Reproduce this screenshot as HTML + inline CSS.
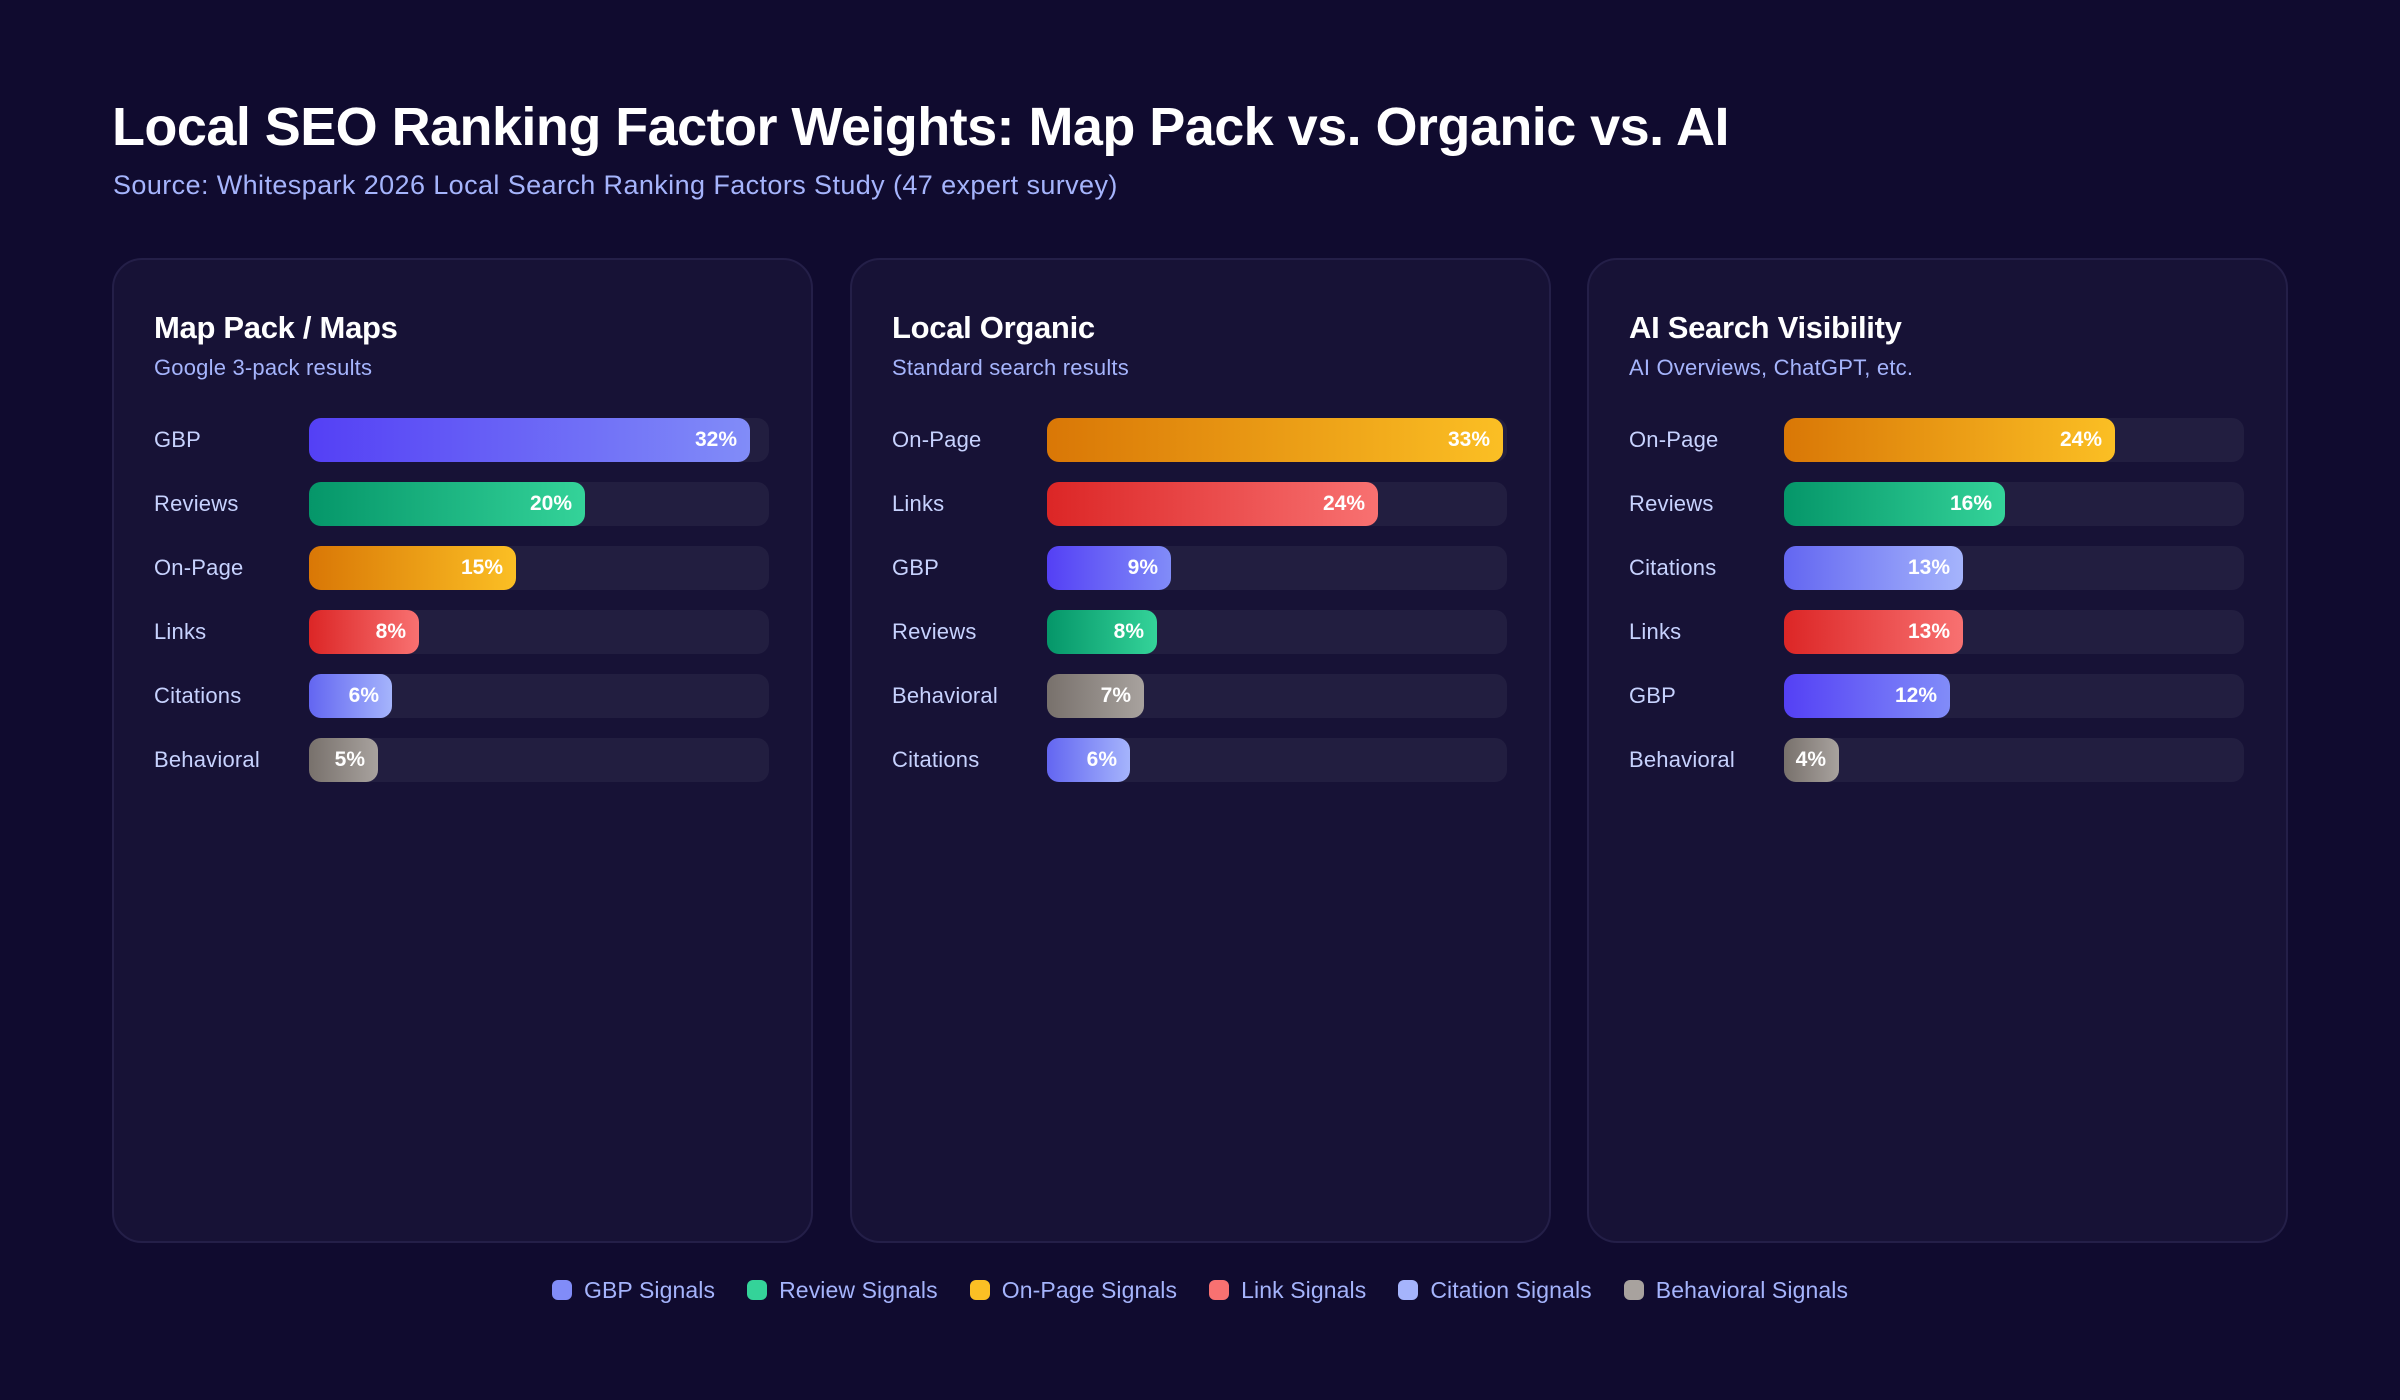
<!DOCTYPE html>
<html><head><meta charset="utf-8"><style>
*{margin:0;padding:0;box-sizing:border-box}
body{width:2400px;height:1400px;background:#100b2f;font-family:"Liberation Sans",sans-serif;position:relative;overflow:hidden}
h1{position:absolute;left:112px;top:96px;font-size:54px;font-weight:700;color:#fff;letter-spacing:-0.55px;white-space:nowrap}
.src{position:absolute;left:113px;top:170px;font-size:27px;color:#a5b4fc;white-space:nowrap;letter-spacing:0.4px}
.card{position:absolute;top:258px;width:701px;height:985px;background:#171236;border:2px solid #241f48;border-radius:30px}
.ct{position:absolute;left:40px;top:50px;font-size:31px;font-weight:700;color:#fff;white-space:nowrap;letter-spacing:-0.3px}
.cs{position:absolute;left:40px;top:95px;font-size:22px;color:#a5b4fc;white-space:nowrap;letter-spacing:0.2px}
.row{position:absolute;left:40px;height:44px;width:617px}
.lab{position:absolute;left:0;top:0;line-height:44px;font-size:22px;color:#c7d2fe;letter-spacing:0.2px}
.tr{position:absolute;left:155px;top:0;width:460px;height:44px;background:#221e40;border-radius:12px}
.bar{position:absolute;left:0;top:0;height:44px;border-radius:12px;text-align:right;padding-right:13px;line-height:44px;font-size:21px;font-weight:700;color:#fff}
.g{background:linear-gradient(90deg,#5440f5,#818cf8)}
.r{background:linear-gradient(90deg,#059669,#34d399)}
.o{background:linear-gradient(90deg,#d97706,#fbbf24)}
.l{background:linear-gradient(90deg,#dc2626,#f87171)}
.c{background:linear-gradient(90deg,#6366f1,#a5b4fc)}
.b{background:linear-gradient(90deg,#78716c,#a8a29e)}
.leg{position:absolute;top:1276px;left:552px;display:flex;gap:32px;font-size:23px;color:#a5b4fc;white-space:nowrap;line-height:28px;letter-spacing:0.1px}
.leg span{display:flex;align-items:center}
.leg i{display:inline-block;width:20px;height:20px;border-radius:6px;margin-right:12px}
</style></head><body>
<h1>Local SEO Ranking Factor Weights: Map Pack vs. Organic vs. AI</h1>
<div class="src">Source: Whitespark 2026 Local Search Ranking Factors Study (47 expert survey)</div>

<div class="card" style="left:112px">
<div class="ct">Map Pack / Maps</div><div class="cs">Google 3-pack results</div>
<div class="row" style="top:158px"><div class="lab">GBP</div><div class="tr"><div class="bar g" style="width:441px">32%</div></div></div>
<div class="row" style="top:222px"><div class="lab">Reviews</div><div class="tr"><div class="bar r" style="width:276px">20%</div></div></div>
<div class="row" style="top:286px"><div class="lab">On-Page</div><div class="tr"><div class="bar o" style="width:207px">15%</div></div></div>
<div class="row" style="top:350px"><div class="lab">Links</div><div class="tr"><div class="bar l" style="width:110px">8%</div></div></div>
<div class="row" style="top:414px"><div class="lab">Citations</div><div class="tr"><div class="bar c" style="width:83px">6%</div></div></div>
<div class="row" style="top:478px"><div class="lab">Behavioral</div><div class="tr"><div class="bar b" style="width:69px">5%</div></div></div>
</div>

<div class="card" style="left:850px">
<div class="ct">Local Organic</div><div class="cs">Standard search results</div>
<div class="row" style="top:158px"><div class="lab">On-Page</div><div class="tr"><div class="bar o" style="width:456px">33%</div></div></div>
<div class="row" style="top:222px"><div class="lab">Links</div><div class="tr"><div class="bar l" style="width:331px">24%</div></div></div>
<div class="row" style="top:286px"><div class="lab">GBP</div><div class="tr"><div class="bar g" style="width:124px">9%</div></div></div>
<div class="row" style="top:350px"><div class="lab">Reviews</div><div class="tr"><div class="bar r" style="width:110px">8%</div></div></div>
<div class="row" style="top:414px"><div class="lab">Behavioral</div><div class="tr"><div class="bar b" style="width:97px">7%</div></div></div>
<div class="row" style="top:478px"><div class="lab">Citations</div><div class="tr"><div class="bar c" style="width:83px">6%</div></div></div>
</div>

<div class="card" style="left:1587px">
<div class="ct">AI Search Visibility</div><div class="cs">AI Overviews, ChatGPT, etc.</div>
<div class="row" style="top:158px"><div class="lab">On-Page</div><div class="tr"><div class="bar o" style="width:331px">24%</div></div></div>
<div class="row" style="top:222px"><div class="lab">Reviews</div><div class="tr"><div class="bar r" style="width:221px">16%</div></div></div>
<div class="row" style="top:286px"><div class="lab">Citations</div><div class="tr"><div class="bar c" style="width:179px">13%</div></div></div>
<div class="row" style="top:350px"><div class="lab">Links</div><div class="tr"><div class="bar l" style="width:179px">13%</div></div></div>
<div class="row" style="top:414px"><div class="lab">GBP</div><div class="tr"><div class="bar g" style="width:166px">12%</div></div></div>
<div class="row" style="top:478px"><div class="lab">Behavioral</div><div class="tr"><div class="bar b" style="width:55px">4%</div></div></div>
</div>

<div class="leg">
<span><i style="background:#818cf8"></i>GBP Signals</span>
<span><i style="background:#34d399"></i>Review Signals</span>
<span><i style="background:#fbbf24"></i>On-Page Signals</span>
<span><i style="background:#f87171"></i>Link Signals</span>
<span><i style="background:#a5b4fc"></i>Citation Signals</span>
<span><i style="background:#a8a29e"></i>Behavioral Signals</span>
</div>
</body></html>
